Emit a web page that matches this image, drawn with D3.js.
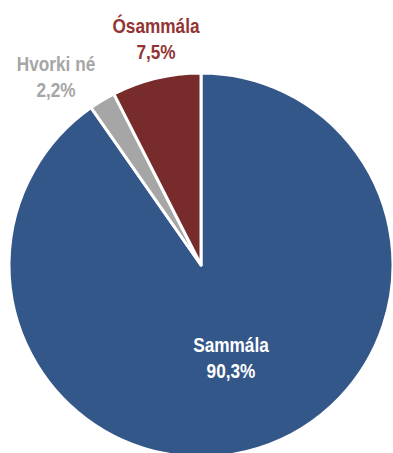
<!DOCTYPE html>
<html>
<head>
<meta charset="utf-8">
<script src="https://cdn.jsdelivr.net/npm/d3@7"></script>
<style>
  html, body { margin: 0; padding: 0; background: #fff; }
  svg text { font-family: "Liberation Sans", Arial, sans-serif; font-weight: bold; }
</style>
</head>
<body>
<svg id="chart" width="393" height="453"></svg>
<script>
const categories = ["Sammála", "Hvorki né", "Ósammála"];
const values = [90.3, 2.2, 7.5];
const labels = ["90,3%", "2,2%", "7,5%"];
const colors = ["#34578A", "#A6A6A6", "#772B2B"];
const labelColors = ["#FFFFFF", "#A6A6A6", "#933434"];

const svg = d3.select("#chart");
const cx = 201, cy = 265, r = 192;

const pie = d3.pie().sort(null).value(d => d.value);
const data = categories.map((c, i) => ({ name: c, value: values[i], label: labels[i], color: colors[i], tcolor: labelColors[i] }));
const arcs = pie(data);
const arc = d3.arc().innerRadius(0).outerRadius(r);

const g = svg.append("g").attr("transform", `translate(${cx},${cy})`);
g.selectAll("path").data(arcs).join("path")
  .attr("d", arc)
  .attr("fill", d => d.data.color)
  .attr("stroke", "#fff")
  .attr("stroke-width", 3)
  .attr("stroke-linejoin", "round");

// label anchors: Sammála inside its slice, the two small slices outside above
const labelPos = [
  { x: 231, y: 352 },
  { x: 56, y: 71 },
  { x: 156, y: 33 }
];
const narrow = 0.82; // condensed look for the label face
data.forEach((d, i) => {
  const t = svg.append("g")
    .attr("transform", `translate(${labelPos[i].x},${labelPos[i].y}) scale(${narrow},1)`)
    .append("text")
    .attr("text-anchor", "middle")
    .attr("fill", d.tcolor)
    .attr("font-size", 21);
  t.append("tspan").attr("x", 0).attr("y", 0).text(d.name);
  t.append("tspan").attr("x", 0).attr("y", 26).text(d.label);
});
</script>
</body>
</html>
